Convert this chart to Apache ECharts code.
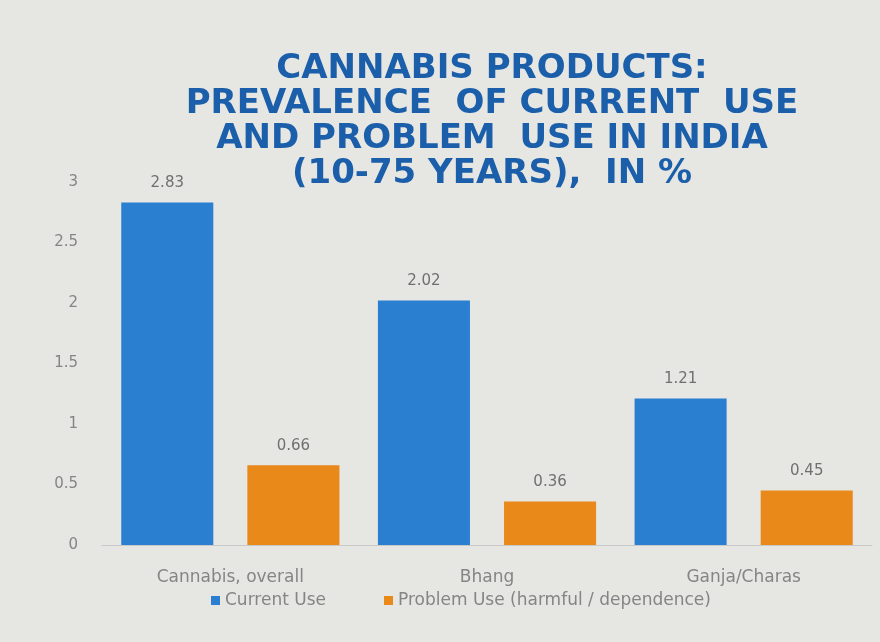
<!DOCTYPE html>
<html><head><meta charset="utf-8">
<script src="https://cdn.jsdelivr.net/npm/echarts@6/dist/echarts.min.js"></script>
<style>html,body{margin:0;padding:0;background:#e6e6e3;}#c{width:880px;height:642px;}</style>
</head><body><div id="c"></div>
<script>
const categories = ['Cannabis, overall', 'Bhang', 'Ganja/Charas'];
const currentUse = [2.83, 2.02, 1.21];
const problemUse = [0.66, 0.36, 0.45];
const seriesNames = ['Current Use', 'Problem Use (harmful / dependence)'];
const titleText = 'CANNABIS PRODUCTS:\nPREVALENCE  OF CURRENT  USE\nAND PROBLEM  USE IN INDIA\n(10-75 YEARS),  IN %';

const chart = echarts.init(document.getElementById('c'));
const labelStyle = {show: true, position: 'top', distance: 12, color: '#707070', fontSize: 15, fontFamily: 'DejaVu Sans', formatter: p => p.value.toFixed(2)};
chart.setOption({
  backgroundColor: '#e6e6e3',
  title: {
    text: titleText, left: 487, top: 47, textAlign: 'center',
    textStyle: {fontFamily: 'DejaVu Sans', fontWeight: 'bold', fontSize: 34, lineHeight: 35, color: '#1b5fab'}
  },
  legend: {
    bottom: 28, left: 206, itemWidth: 9, itemHeight: 9, itemGap: 58, icon: 'rect',
    textStyle: {color: '#858585', fontSize: 17, fontFamily: 'DejaVu Sans'}
  },
  grid: {left: 102, right: 8, top: 182, bottom: 97},
  xAxis: {
    type: 'category', data: categories,
    axisLine: {lineStyle: {color: '#c8c8c8'}}, axisTick: {show: false},
    axisLabel: {color: '#858585', fontSize: 17, fontFamily: 'DejaVu Sans', margin: 24}
  },
  yAxis: {
    type: 'value', min: 0, max: 3, interval: 0.5,
    splitLine: {show: false}, axisLine: {show: false}, axisTick: {show: false},
    axisLabel: {color: '#858585', fontSize: 15, fontFamily: 'DejaVu Sans', margin: 24}
  },
  series: [
    {name: seriesNames[0], type: 'bar', data: currentUse, barGap: '37%', barCategoryGap: '15%',
     itemStyle: {color: '#2a7fd1'}, label: labelStyle},
    {name: seriesNames[1], type: 'bar', data: problemUse,
     itemStyle: {color: '#e8891a'}, label: labelStyle}
  ]
});
</script></body></html>
